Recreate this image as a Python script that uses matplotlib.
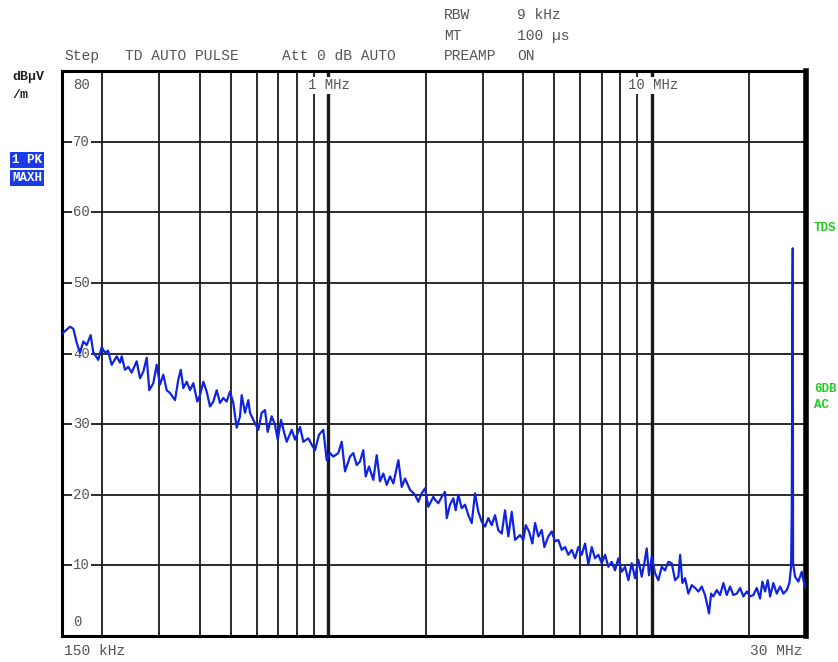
import matplotlib
matplotlib.use("Agg")
import matplotlib.pyplot as plt

# trace: frequency in MHz, level in dBuV/m
freq_mhz = [
    0.150, 0.1588, 0.1626, 0.1666, 0.1705, 0.1746, 0.1788, 0.1840, 0.1874, 0.1942,
    0.1990, 0.2037, 0.2081, 0.2137, 0.2214, 0.2267, 0.2295, 0.2349, 0.2405, 0.2464,
    0.2553, 0.2614, 0.2676, 0.2742, 0.2793, 0.2874, 0.2944, 0.3014, 0.3086, 0.3161,
    0.3237, 0.3354, 0.3434, 0.3494, 0.3559, 0.3646, 0.3732, 0.3821, 0.3932, 0.4008,
    0.4104, 0.4204, 0.4304, 0.4406, 0.4514, 0.4621, 0.4731, 0.4847, 0.4962, 0.5080,
    0.5204, 0.5329, 0.5393, 0.5522, 0.5653,
    0.5722, 0.5858, 0.6071, 0.6219, 0.6367, 0.6491, 0.6678, 0.6837, 0.6970, 0.7136,
    0.7305, 0.7432, 0.7702, 0.7885, 0.8171, 0.8365, 0.8669, 0.8879, 0.9092, 0.9353,
    0.9644, 0.9880, 1.0117, 1.0357, 1.0731, 1.0996, 1.1257, 1.1663, 1.1940, 1.2232,
    1.2522, 1.2820, 1.3043, 1.3353, 1.3768, 1.4105, 1.4441, 1.4787, 1.515, 1.551,
    1.588, 1.646, 1.686, 1.726, 1.788, 1.853, 1.897, 1.943, 1.990, 2.037, 2.111,
    2.137, 2.188, 2.241, 2.294, 2.323, 2.378, 2.434, 2.476, 2.523, 2.584,
    2.646, 2.709, 2.775, 2.841, 2.908, 2.979, 3.051, 3.123, 3.200, 3.276,
    3.353, 3.436, 3.518, 3.602, 3.690, 3.778, 3.915, 4.008, 4.077, 4.174,
    4.274, 4.357, 4.461, 4.570, 4.655, 4.789, 4.906, 5.023, 5.142, 5.268,
    5.393, 5.522, 5.657, 5.792, 5.930, 6.075, 6.219, 6.367, 6.523, 6.678,
    6.836, 7.004, 7.172, 7.342, 7.521, 7.700, 7.883, 8.076,
    8.268, 8.466, 8.673, 8.879, 9.090, 9.312, 9.486, 9.649, 9.808, 10.00,
    10.24, 10.48, 10.74, 10.99, 11.26, 11.53, 11.81, 12.09, 12.24, 12.44,
    12.68, 12.98, 13.30, 13.62, 13.94, 14.28, 14.62, 15.04, 15.26, 15.51,
    15.89, 16.27, 16.66, 17.06, 17.47, 17.88, 18.32, 18.76, 19.21, 19.68,
    20.15, 20.62, 21.13, 21.63, 21.99, 22.42, 22.85, 23.23, 23.78, 24.36,
    24.95, 25.54, 26.16, 26.65, 26.98, 27.11, 27.23, 27.30, 27.36, 27.75,
    28.41, 29.11, 29.66, 30.0,
]
level_db = [
    42.8, 43.8, 43.5, 41.5, 40.1, 41.7, 41.2, 42.6, 40.2, 39.1,
    40.9, 40.1, 40.4, 38.4, 39.6, 38.7, 39.6, 37.7, 38.1, 37.3,
    38.9, 36.5, 37.4, 39.4, 34.8, 35.8, 38.4, 35.6, 37.0, 34.8,
    34.4, 33.4, 36.3, 37.7, 35.1, 36.0, 34.8, 35.8, 33.2, 34.1,
    36.0, 34.6, 32.5, 33.2, 34.8, 33.0, 33.7, 33.2, 34.6, 33.0,
    29.5, 31.1, 34.1, 31.6, 33.4,
    31.6, 30.6, 29.2, 31.6, 32.0, 28.9, 31.1, 29.9, 27.8, 30.6,
    28.7, 27.5, 29.2, 27.8, 29.6, 27.5, 28.0, 27.1, 26.3, 28.5,
    29.2, 24.9, 25.9, 25.4, 25.9, 27.5, 23.3, 25.4, 25.9, 24.2,
    24.7, 26.3, 22.6, 24.0, 22.1, 25.6, 21.9, 23.0, 21.4, 22.6,
    21.6, 24.9, 21.1, 22.3, 20.7, 20.0, 19.0, 20.2, 20.9, 18.3, 19.7,
    19.3, 18.8, 19.7, 20.4, 16.7, 18.6, 19.5, 17.8, 20.0, 18.1,
    18.6, 17.1, 16.0, 20.2, 17.6, 16.2, 15.5, 16.7, 15.7, 17.1,
    15.0, 14.5, 17.8, 14.1, 17.6, 13.6, 14.3, 13.6, 15.7, 14.8,
    13.1, 16.0, 14.1, 15.0, 12.6, 14.1, 14.8, 13.4, 13.6, 12.2,
    12.6, 11.5, 12.2, 11.0, 12.6, 11.5, 13.1, 10.1, 12.6, 11.0,
    11.5, 10.3, 11.5, 9.8, 10.5, 9.3, 11.0, 9.1,
    9.8, 7.9, 10.3, 8.2, 10.8, 8.4, 10.3, 12.4, 8.6, 11.2,
    8.9, 7.9, 9.8, 9.3, 10.5, 10.3, 7.9, 8.4, 11.5, 7.5,
    8.2, 6.0, 7.2, 6.8, 6.3, 7.0, 5.8, 3.2, 6.0, 5.6,
    6.5, 5.8, 7.5, 5.8, 7.0, 5.8, 6.0, 6.8, 5.6, 6.3,
    5.6, 5.8, 6.8, 5.3, 7.7, 6.3, 7.9, 5.6, 7.5, 6.0,
    7.0, 6.0, 6.5, 7.5, 9.8, 17.8, 44.8, 54.9, 10.3, 8.4,
    7.7, 9.1, 7.2, 6.8,
]

# grid
level_lines = [10, 20, 30, 40, 50, 60, 70]
level_labels = ["0", "10", "20", "30", "40", "50", "60", "70", "80"]
freq_lines = [0.2, 0.3, 0.4, 0.5, 0.6, 0.7, 0.8, 0.9, 1.0,
              2, 3, 4, 5, 6, 7, 8, 9, 10, 20]
freq_heavy = [1.0, 10]

mono = "Liberation Mono"
grey = "#555555"

fig = plt.figure(figsize=(8.38, 6.62), dpi=100)
W, H = 838, 662
ax = fig.add_axes([62 / W, 26 / H, 744 / W, 565 / H])
ax.set_xscale("log")
ax.set_xlim(0.15, 30)
ax.set_ylim(0, 80)
ax.set_xticks([])
ax.set_yticks([])
ax.minorticks_off()
for s in ax.spines.values():
    s.set_linewidth(2.2)
ax.spines["right"].set_linewidth(4)

for y in level_lines:
    ax.axhline(y, color="#1a1a1a", lw=1.3, zorder=1)
for f in freq_lines:
    ax.axvline(f, color="#1a1a1a", lw=2.4 if f in freq_heavy else 1.3, zorder=1)

# level labels sit on the grid with a white box
box = dict(facecolor="white", edgecolor="none", pad=1.0)
for i, lab in enumerate(level_labels):
    y = i * 10
    if i == 0:
        y = 2.0
    elif i == 8:
        y = 78.0
    ax.text(0.0148, y, lab, transform=ax.get_yaxis_transform(), ha="left",
            va="center", family=mono, fontsize=10, color=grey, bbox=box, zorder=2)

ax.text(0.331, 0.975, "1 MHz", transform=ax.transAxes, ha="left", va="center",
        family=mono, fontsize=10, color=grey, bbox=box, zorder=2)
ax.text(0.761, 0.975, "10 MHz", transform=ax.transAxes, ha="left", va="center",
        family=mono, fontsize=10, color=grey, bbox=box, zorder=2)

ax.plot(freq_mhz, level_db, color="#1024e0", lw=1.6, zorder=3)


def ftext(x, y, s, **kw):
    fig.text(x / W, 1 - y / H, s, va="center", **kw)


# header
for x, y, s in [(64, 56, "Step"), (125, 56, "TD AUTO PULSE"), (282, 56, "Att 0 dB AUTO"),
                (444, 56, "PREAMP"), (517, 56, "ON"),
                (444, 15, "RBW"), (517, 15, "9 kHz"),
                (444, 36, "MT"), (517, 36, "100 µs")]:
    ftext(x, y, s, family=mono, fontsize=10.5, color=grey)

# left side
ftext(12, 77, "dBµV", family=mono, fontsize=9.5, weight="bold", color="#222222")
ftext(12, 95, "/m", family=mono, fontsize=9.5, weight="bold", color="#222222")
blue_box = dict(facecolor="#1a3ce8", edgecolor="none", pad=1.2)
ftext(12, 160, "1 PK", family=mono, fontsize=9, weight="bold", color="white", bbox=blue_box)
ftext(12, 178, "MAXH", family=mono, fontsize=9, weight="bold", color="white", bbox=blue_box)

# right side
for y, s in [(228, "TDS"), (389, "6DB"), (405, "AC")]:
    ftext(814, y, s, family=mono, fontsize=9, weight="bold", color="#22cc22")

# bottom
ftext(64, 651, "150 kHz", family=mono, fontsize=10.5, color=grey)
fig.text(802 / W, 1 - 651 / H, "30 MHz", ha="right", va="center",
         family=mono, fontsize=10.5, color=grey)

fig.savefig("out.png", dpi=100)
